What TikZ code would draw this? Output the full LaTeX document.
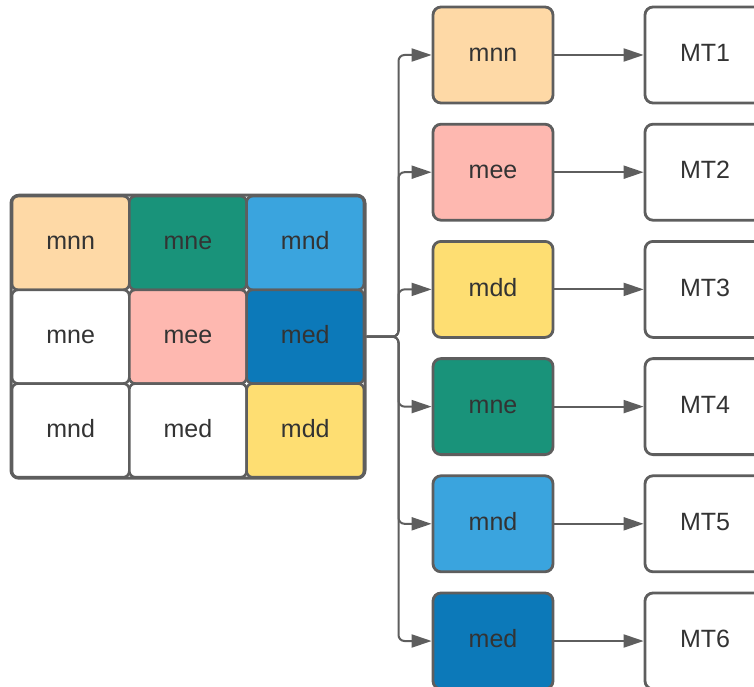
\documentclass[tikz,border=0pt]{standalone}
\usepackage{fontspec}
\setmainfont{Liberation Sans}
\usetikzlibrary{arrows.meta}

\definecolor{edge}{HTML}{5E5E5E}
\definecolor{ink}{HTML}{333333}
\definecolor{peach}{HTML}{FED9A6}
\definecolor{teal}{HTML}{19937A}
\definecolor{sky}{HTML}{3AA4DE}
\definecolor{rose}{HTML}{FEB8B0}
\definecolor{navy}{HTML}{0C79B9}
\definecolor{sun}{HTML}{FEDE72}

\tikzset{
  lbl/.style={text=ink, font=\fontsize{25}{30}\selectfont,
    text height=18pt, text depth=4.6pt},
  cell/.style={lbl, draw=edge, line width=2.6pt, rounded corners=6pt,
    minimum width=117.3pt, minimum height=93.7pt, inner sep=0pt, outer sep=0pt},
  frame/.style={draw=edge, line width=3pt, rounded corners=8pt,
    minimum width=354pt, minimum height=283pt, inner sep=0pt},
  keybox/.style={lbl, draw=edge, line width=2.8pt, rounded corners=8pt,
    minimum width=120pt, minimum height=96pt, inner sep=0pt},
  conn/.style={draw=edge, line width=2pt, rounded corners=6pt,
    -{Triangle[length=20pt,width=13pt]}},
}

\begin{document}
\begin{tikzpicture}[x=1pt, y=-1pt]
  \useasboundingbox (0,0) rectangle (754,687);
  \clip (0,0) rectangle (754,687);
  \fill[white] (0,0) rectangle (754,687);

  % 3x3 grid of cells
  \node[cell, fill=peach] (g11) at (70.65,243) {mnn};
  \node[cell, fill=teal]  (g12) at (187.95,243) {mne};
  \node[cell, fill=sky]   (g13) at (305.25,243) {mnd};
  \node[cell, fill=white] (g21) at (70.65,336.7) {mne};
  \node[cell, fill=rose]  (g22) at (187.95,336.7) {mee};
  \node[cell, fill=navy]  (g23) at (305.25,336.7) {med};
  \node[cell, fill=white] (g31) at (70.65,430.4) {mnd};
  \node[cell, fill=white] (g32) at (187.95,430.4) {med};
  \node[cell, fill=sun]   (g33) at (305.25,430.4) {mdd};
  \node[frame] (grid) at (188,336.7) {};

  % branch point of the tree
  \coordinate (split) at (398.5,336.7);

  % coloured keys and their targets
  \node[keybox, fill=peach] (k1) at (493,55)    {mnn};
  \node[keybox, fill=rose]  (k2) at (493,172.2) {mee};
  \node[keybox, fill=sun]   (k3) at (493,289.4) {mdd};
  \node[keybox, fill=teal]  (k4) at (493,406.6) {mne};
  \node[keybox, fill=sky]   (k5) at (493,523.8) {mnd};
  \node[keybox, fill=navy]  (k6) at (493,641)   {med};

  \node[keybox, fill=white] (t1) at (705,55)    {MT1};
  \node[keybox, fill=white] (t2) at (705,172.2) {MT2};
  \node[keybox, fill=white] (t3) at (705,289.4) {MT3};
  \node[keybox, fill=white] (t4) at (705,406.6) {MT4};
  \node[keybox, fill=white] (t5) at (705,523.8) {MT5};
  \node[keybox, fill=white] (t6) at (705,641)   {MT6};

  \foreach \i in {1,...,6} {
    \draw[conn] (grid.east) -- (split) |- (k\i.west);
    \draw[conn] (k\i.east) -- (t\i.west);
  }
\end{tikzpicture}
\end{document}
